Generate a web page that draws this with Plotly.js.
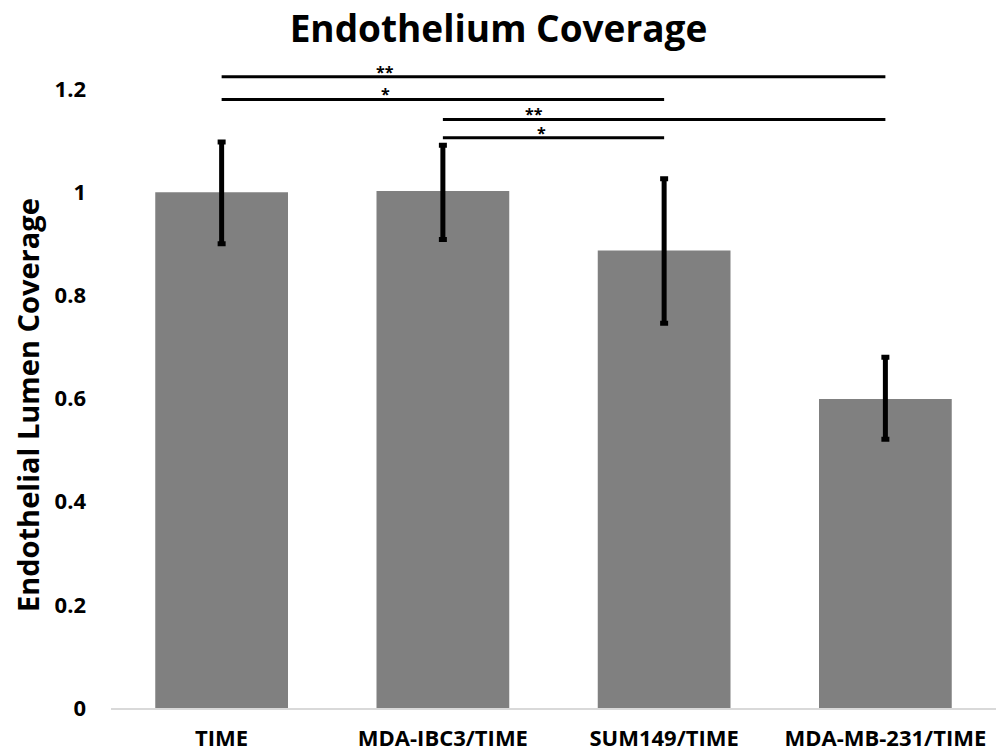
<!DOCTYPE html>
<html>
<head>
<meta charset="utf-8">
<script src="https://cdn.plot.ly/plotly-3.0.1.min.js"></script>
<style>html,body{margin:0;padding:0;background:#fff;}#chart{width:997px;height:755px;}</style>
</head>
<body>
<div id="chart"></div>
<script>
const categories = ['TIME', 'MDA-IBC3/TIME', 'SUM149/TIME', 'MDA-MB-231/TIME'];
const coverage = [1.0, 1.002, 0.887, 0.599];
const errPlus = [0.097, 0.089, 0.139, 0.081];
const errMinus = [0.100, 0.094, 0.141, 0.078];
const yTickVals = [0, 0.2, 0.4, 0.6, 0.8, 1.0, 1.2];
const yTickText = ['0', '0.2', '0.4', '0.6', '0.8', '1', '1.2'];
// significance brackets: from index, to index, level, label, label x position
const sigFrom = [0, 0, 1, 1];
const sigTo = [3, 2, 3, 2];
const sigLevel = [1.2235, 1.1797, 1.1409, 1.1052];
const sigLabel = ['**', '*', '**', '*'];
const sigLabelX = [0.737, 0.74, 1.41, 1.445];

const FONT = 'Open Sans, Noto Sans, sans-serif';

const trace = {
  type: 'bar',
  x: categories,
  y: coverage,
  marker: {color: '#808080'},
  error_y: {type: 'data', symmetric: false, array: errPlus, arrayminus: errMinus,
            color: '#000000', thickness: 5, width: 4},
  hoverinfo: 'skip'
};

const shapes = sigFrom.map((f, i) => ({
  type: 'line', xref: 'x', yref: 'y',
  x0: f, x1: sigTo[i], y0: sigLevel[i], y1: sigLevel[i],
  line: {color: '#000000', width: 3}
}));

const annotations = sigLabel.map((t, i) => ({
  xref: 'x', yref: 'y', x: sigLabelX[i], y: sigLevel[i],
  text: '<b>' + t + '</b>', showarrow: false, yanchor: 'bottom', yshift: -7,
  borderpad: 0,
  font: {family: FONT, size: 16, color: '#000'}
}));
annotations.push({
  xref: 'paper', yref: 'paper', x: -0.0949, y: 0.466,
  text: '<b>Endothelial Lumen Coverage</b>', textangle: -90, showarrow: false,
  xanchor: 'center', yanchor: 'middle',
  font: {family: FONT, size: 29, color: '#000'}
});

const layout = {
  width: 997, height: 755,
  margin: {l: 111, r: 1, t: 58, b: 47},
  paper_bgcolor: '#ffffff', plot_bgcolor: '#ffffff',
  showlegend: false,
  bargap: 0.4,
  title: {text: '<b>Endothelium Coverage</b>', x: 0.5, xanchor: 'center',
          y: 0.962, yanchor: 'middle', yref: 'container',
          font: {family: FONT, size: 37, color: '#000'}},
  xaxis: {type: 'category', showline: true, linecolor: '#d9d9d9', linewidth: 1.5,
          showgrid: false, zeroline: false, ticks: '', ticklabelstandoff: 10,
          tickfont: {family: FONT, size: 22, color: '#000', weight: 'bold'},
          range: [-0.5, 3.5], automargin: false},
  yaxis: {range: [0, 1.26], tickvals: yTickVals, ticktext: yTickText,
          showgrid: false, zeroline: false, showline: false, ticks: '',
          ticklabelstandoff: 24, automargin: false,
          tickfont: {family: FONT, size: 22, color: '#000', weight: 'bold'}},
  shapes: shapes,
  annotations: annotations
};

Plotly.newPlot('chart', [trace], layout, {displayModeBar: false, staticPlot: true});
</script>
</body>
</html>
